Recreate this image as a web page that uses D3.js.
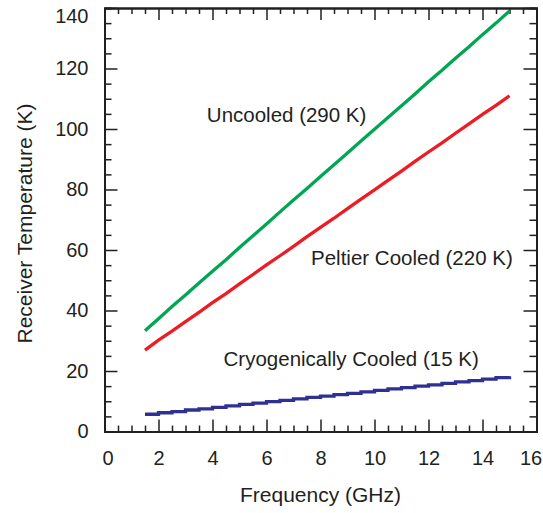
<!DOCTYPE html>
<html><head><meta charset="utf-8">
<script src="https://cdn.jsdelivr.net/npm/d3@7"></script>
<style>
html,body{margin:0;padding:0;background:#fff;}
svg{display:block;font-family:"Liberation Sans",Arial,Helvetica,sans-serif;}
</style></head>
<body>
<script>
// ---- data ----
const freq = [1.5,2,2.5,3,3.5,4,4.5,5,5.5,6,6.5,7,7.5,8,8.5,9,9.5,10,10.5,11,11.5,12,12.5,13,13.5,14,14.5,15];
const uncooled = [33.3,37.3,41.3,45.1,49.1,53.0,56.8,60.8,64.7,68.6,72.6,76.5,80.3,84.3,88.2,92.1,96.0,99.9,103.8,107.7,111.6,115.6,119.4,123.4,127.2,131.2,135.0,139.0];
const peltier = [26.9,30.2,33.2,36.3,39.4,42.6,45.6,48.8,51.9,55.1,58.1,61.2,64.4,67.5,70.5,73.7,76.8,79.9,83.0,86.1,89.3,92.4,95.4,98.6,101.7,104.8,107.8,111.0];
const cryo = [5.7,6.2,6.6,7.1,7.5,8.0,8.5,9.0,9.4,9.9,10.3,10.8,11.3,11.7,12.2,12.6,13.1,13.6,14.1,14.5,15.0,15.4,15.9,16.4,16.8,17.3,17.8,18.3];
const xTicks = [0,2,4,6,8,10,12,14,16];
const yTicks = [0,20,40,60,80,100,120,140];
const seriesNames = ["Uncooled (290 K)","Peltier Cooled (220 K)","Cryogenically Cooled (15 K)"];
const seriesColors = ["#00a651","#ed1c24","#2e3192"];
// label anchor positions (in data units)
const labelX = [3.79, 7.65, 4.41];
const labelY = [102.4, 55.0, 21.6];
const xTitle = "Frequency (GHz)";
const yTitle = "Receiver Temperature (K)";

const W = 543, H = 513;
const x0 = 104.5, x1 = 536.5, yBot = 431.5, yTop = 8;
const ink = "#231f20";

const svg = d3.select("body").append("svg").attr("width", W).attr("height", H);
const x = d3.scaleLinear().domain([0,16]).range([x0,x1]);
const y = d3.scaleLinear().domain([0,140]).range([yBot,yTop]);

const xMinor = d3.range(0,16.01,0.5).filter(v => v % 2 !== 0);
const yMinor = d3.range(0,140.01,5).filter(v => v % 20 !== 0);

function styleAxis(g){
  g.selectAll(".domain").attr("stroke", ink).attr("stroke-width", 2);
  g.selectAll(".tick line").attr("stroke", ink).attr("stroke-width", 1.5);
  g.selectAll("text").attr("fill", ink).attr("font-size", 20).attr("font-family", "Liberation Sans, Arial, sans-serif");
}

// minor ticks
svg.append("g").attr("transform",`translate(0,${yBot})`).call(d3.axisBottom(x).tickValues(xMinor).tickSize(-6).tickFormat("")).call(styleAxis);
svg.append("g").attr("transform",`translate(0,${yTop})`).call(d3.axisTop(x).tickValues(xMinor).tickSize(-6).tickFormat("")).call(styleAxis);
svg.append("g").attr("transform",`translate(${x0},0)`).call(d3.axisLeft(y).tickValues(yMinor).tickSize(-7).tickFormat("")).call(styleAxis);
svg.append("g").attr("transform",`translate(${x1},0)`).call(d3.axisRight(y).tickValues(yMinor).tickSize(-7).tickFormat("")).call(styleAxis);

// major ticks
const gx = svg.append("g").attr("transform",`translate(0,${yBot})`).call(d3.axisBottom(x).tickValues(xTicks).tickSize(-12).tickSizeOuter(0).tickPadding(19)).call(styleAxis);
svg.append("g").attr("transform",`translate(0,${yTop})`).call(d3.axisTop(x).tickValues(xTicks).tickSize(-12).tickSizeOuter(0).tickFormat("")).call(styleAxis);
const gy = svg.append("g").attr("transform",`translate(${x0},0)`).call(d3.axisLeft(y).tickValues(yTicks).tickSize(-13).tickSizeOuter(0).tickPadding(16)).call(styleAxis);
svg.append("g").attr("transform",`translate(${x1},0)`).call(d3.axisRight(y).tickValues(yTicks).tickSize(-13).tickSizeOuter(0).tickFormat("")).call(styleAxis);

// nudge edge labels inside the canvas like the reference
gx.selectAll(".tick").filter(d=>d===0).select("text").attr("dx", 3);
gx.selectAll(".tick").filter(d=>d===16).select("text").attr("dx", -6);
gy.selectAll(".tick").filter(d=>d===140).select("text").attr("dy", "0.32em").attr("y", 8);

const allSeries = [uncooled, peltier, cryo];
const line = d3.line().x((d,i)=>x(freq[i])).y(d=>y(d));
allSeries.forEach((s,k)=>{
  svg.append("path").datum(s)
    .attr("d", k===2 ? line.curve(d3.curveStepAfter)(s) : line.curve(d3.curveLinear)(s))
    .attr("fill","none").attr("stroke",seriesColors[k]).attr("stroke-width",3.3);
});

// annotations
seriesNames.forEach((t,k)=>{
  svg.append("text").attr("x",x(labelX[k])).attr("y",y(labelY[k]))
    .attr("font-size",20.5).attr("fill",ink).text(t);
});

// axis titles
svg.append("text").attr("x",(x0+x1)/2).attr("y",502).attr("text-anchor","middle")
  .attr("font-size",21).attr("fill",ink).text(xTitle);
svg.append("text").attr("transform",`translate(32,223.5) rotate(-90)`).attr("text-anchor","middle")
  .attr("font-size",21).attr("fill",ink).text(yTitle);
</script>
</body></html>
